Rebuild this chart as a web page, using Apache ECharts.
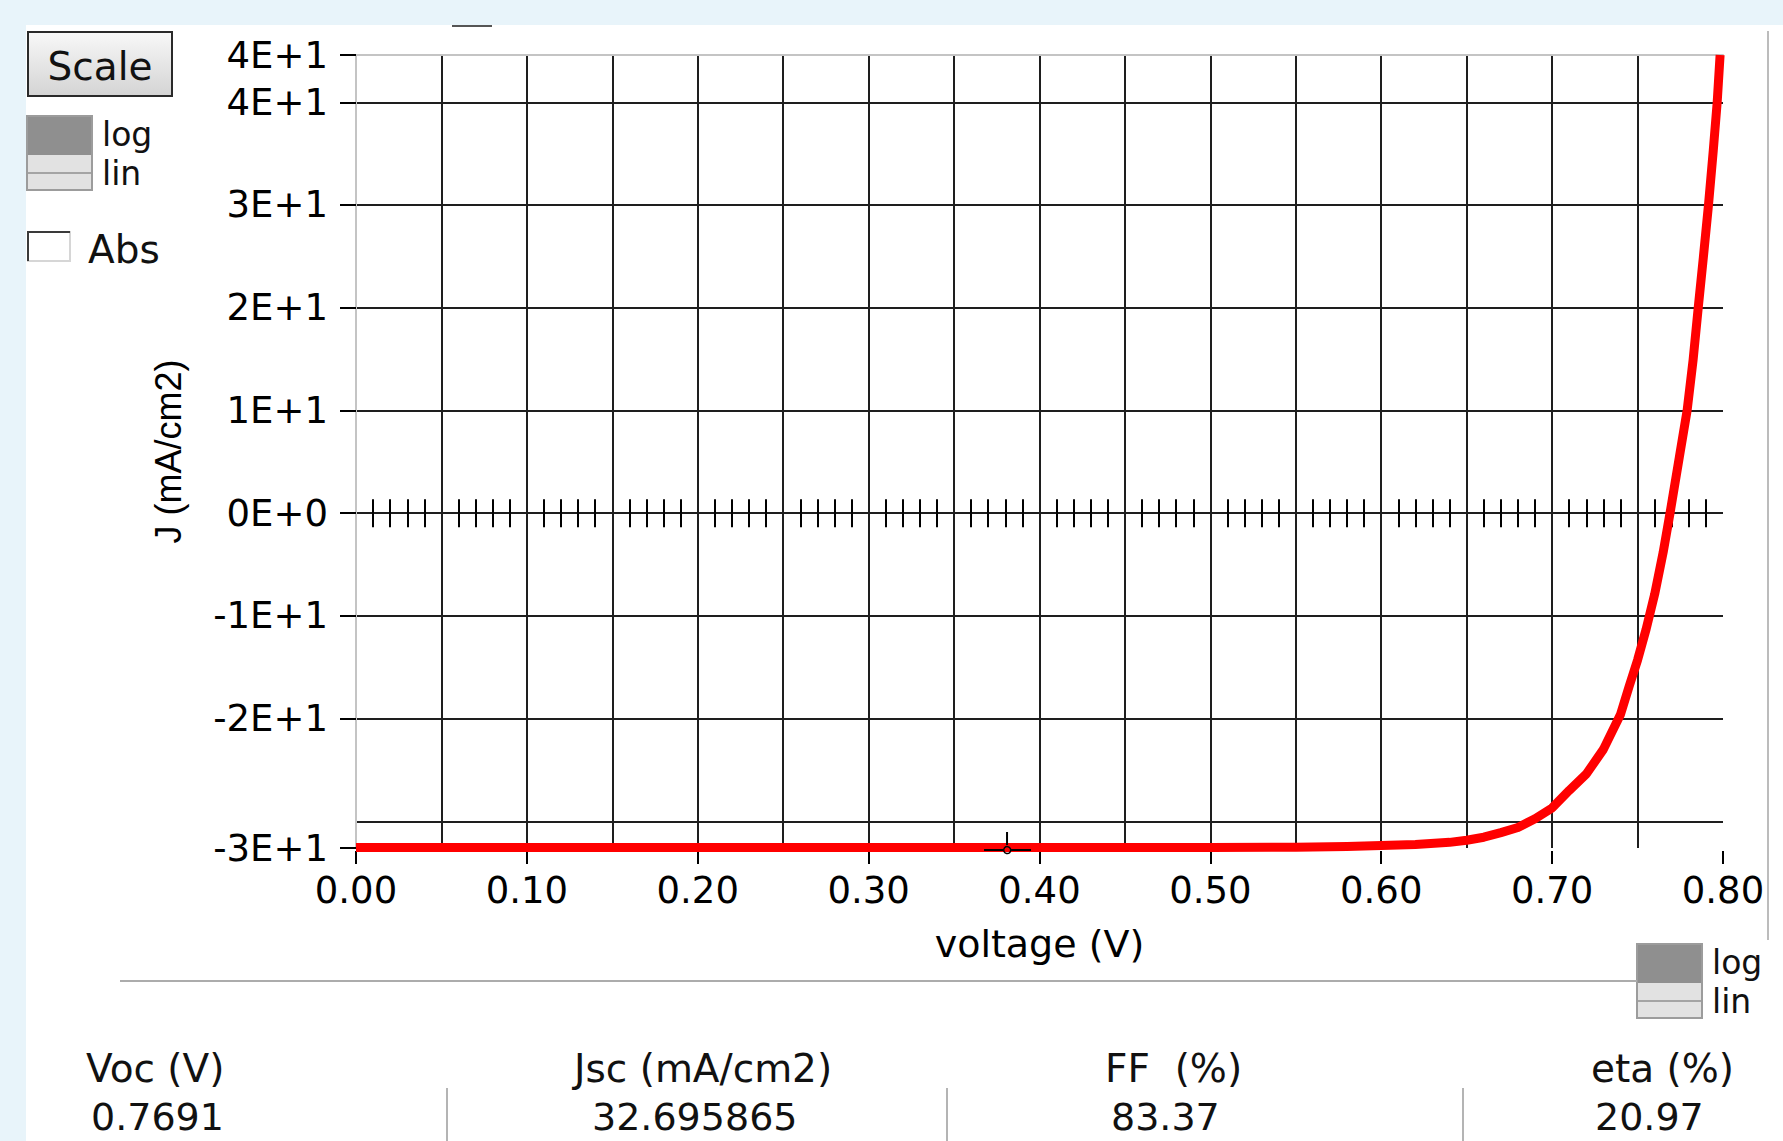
<!DOCTYPE html>
<html>
<head>
<meta charset="utf-8">
<script src="https://cdn.jsdelivr.net/npm/echarts@6/dist/echarts.min.js"></script>
<style>
html, body { margin: 0; padding: 0; width: 1783px; height: 1141px; overflow: hidden; background: #e8f4fa; }
#panel { position: absolute; left: 26px; top: 25px; right: 0; bottom: 0; background: #ffffff; }
#chart { position: absolute; left: 0; top: 0; width: 1783px; height: 1141px; }
</style>
</head>
<body>
<div id="panel"></div>
<div id="chart"></div>
<script>
// ---- data ----
const voltage = [0.00, 0.05, 0.10, 0.15, 0.20, 0.25, 0.30, 0.35, 0.40, 0.45, 0.50, 0.55,
  0.58, 0.60, 0.62, 0.64, 0.65, 0.66, 0.67, 0.68, 0.69, 0.70, 0.71, 0.72, 0.73, 0.74,
  0.745, 0.75, 0.755, 0.76, 0.765, 0.769, 0.7745, 0.779, 0.7825, 0.7855, 0.7885, 0.7915,
  0.7943, 0.7966, 0.7983];
const currentDensity = [-32.55, -32.55, -32.55, -32.55, -32.55, -32.55, -32.55, -32.55, -32.55, -32.55, -32.55, -32.53,
  -32.45, -32.35, -32.25, -32.05, -31.85, -31.55, -31.1, -30.6, -29.75, -28.7, -27.0, -25.4, -23.0, -19.6,
  -16.9, -14.3, -11.3, -7.9, -3.8, 0.0, 5.5, 10.0, 14.9, 20.0, 24.9, 30.0,
  35.3, 40.0, 44.6];
const xRange = [0, 0.8];
const yRange = [-32.6, 44.6];
const cursorPoint = [0.381, -32.6];
const paramNames = ['Voc (V)', 'Jsc (mA/cm2)', 'FF  (%)', 'eta (%)'];
const paramValues = ['0.7691', '32.695865', '83.37', '20.97'];
const scaleOptions = ['log', 'lin'];
const xTitle = 'voltage (V)';
const yTitle = 'J (mA/cm2)';

// ---- layout ----
const headerX = [86, 574, 1105, 1591];
const valueX = [91, 592, 1111, 1595];
const FONT = 'DejaVu Sans';
const INK = '#000000';
const GRIDC = '#1e1e1e';

const chart = echarts.init(document.getElementById('chart'), null, { renderer: 'svg' });

const seriesData = voltage.map((v, i) => [v, currentDensity[i]]);
const yFmt = (v) => Number(v).toExponential(0).toUpperCase();

function zeroTickAxis(pos) {
  return {
    type: 'value', gridIndex: 0, position: pos,
    min: xRange[0], max: xRange[1], interval: 0.05,
    axisLine: { show: false, onZero: true, onZeroAxisIndex: 0 },
    axisTick: { show: false },
    axisLabel: { show: false },
    splitLine: { show: false },
    minorTick: { show: true, splitNumber: 5, length: 14, lineStyle: { color: INK, width: 2 } },
    minorSplitLine: { show: false }
  };
}

const option = {
  animation: false,
  backgroundColor: 'transparent',
  grid: { left: 356, right: 60, top: 55, bottom: 293, containLabel: false, outerBoundsMode: 'none' },
  xAxis: [
    {
      type: 'value', position: 'bottom', offset: 3,
      min: xRange[0], max: xRange[1], interval: 0.1,
      name: xTitle, nameLocation: 'middle', nameGap: 74, nameMoveOverlap: false,
      nameTextStyle: { color: INK, fontFamily: FONT, fontSize: 38 },
      axisLine: { show: false, onZero: false },
      axisTick: { show: true, length: 13, lineStyle: { color: INK, width: 2 } },
      axisLabel: { color: INK, fontFamily: FONT, fontSize: 37, margin: 21,
        showMinLabel: true, showMaxLabel: true, formatter: (v) => Number(v).toFixed(2) },
      splitLine: { show: true, showMinLine: false, showMaxLine: false, lineStyle: { color: GRIDC, width: 2 } },
      minorTick: { show: false, splitNumber: 2 },
      minorSplitLine: { show: true, lineStyle: { color: GRIDC, width: 2 } }
    },
    {
      type: 'value', position: 'top',
      min: xRange[0], max: xRange[1],
      axisLine: { show: true, onZero: false, lineStyle: { color: '#c4c4c4', width: 2 } },
      axisTick: { show: false }, axisLabel: { show: false }, splitLine: { show: false }
    },
    zeroTickAxis('bottom'),
    zeroTickAxis('top')
  ],
  yAxis: {
    type: 'value', min: yRange[0], max: yRange[1], minInterval: 10, maxInterval: 10,
    name: yTitle, nameLocation: 'middle', nameGap: 170, nameRotate: 90, nameMoveOverlap: false,
    nameTextStyle: { color: INK, fontFamily: 'Liberation Sans', fontSize: 36 },
    axisLine: { show: true, onZero: false, lineStyle: { color: '#c4c4c4', width: 2 } },
    axisTick: { show: true, length: 16, lineStyle: { color: INK, width: 2 } },
    axisLabel: { color: INK, fontFamily: FONT, fontSize: 37, margin: 28,
      showMinLabel: true, showMaxLabel: true, formatter: yFmt },
    splitLine: { show: true, showMinLine: false, showMaxLine: false, lineStyle: { color: GRIDC, width: 2 } }
  },
  series: [{
    type: 'line', xAxisIndex: 0, yAxisIndex: 0,
    data: seriesData, showSymbol: false, smooth: false, clip: false,
    lineStyle: { color: '#ff0000', width: 9, cap: 'butt', join: 'round' },
    itemStyle: { color: '#ff0000' }, z: 5
  }]
};
chart.setOption(option);

const p = chart.convertToPixel({ xAxisIndex: 0, yAxisIndex: 0 }, cursorPoint);
const cx = p[0], cy = p[1] + 1;

const txt = (x, y, s, size, align, extra) => ({
  type: 'text', x: x, y: y, z: 20,
  style: Object.assign({ text: s, fontFamily: FONT, fontSize: size, fill: '#111111', align: align || 'left', verticalAlign: 'middle' }, extra || {})
});
const line = (x1, y1, x2, y2, color, w) => ({
  type: 'line', z: 20, shape: { x1: x1, y1: y1, x2: x2, y2: y2 }, style: { stroke: color, lineWidth: w }
});

const logLin = (x, y) => [
  { type: 'rect', z: 19, shape: { x: x, y: y, width: 65, height: 74 }, style: { fill: '#e2e2e2', stroke: '#9c9c9c', lineWidth: 2 } },
  { type: 'rect', z: 19, shape: { x: x + 1, y: y + 1, width: 63, height: 38 }, style: { fill: '#8f8f8f' } },
  line(x + 1, y + 57, x + 64, y + 57, '#a4a4a4', 2),
  txt(x + 75, y + 18, scaleOptions[0], 33),
  txt(x + 75, y + 57, scaleOptions[1], 33)
];

const graphics = [
  // Scale button
  { type: 'rect', z: 19, shape: { x: 28, y: 32, width: 144, height: 64 },
    style: { fill: new echarts.graphic.LinearGradient(0, 0, 0, 1, [{ offset: 0, color: '#f8f8f8' }, { offset: 1, color: '#d4d4d4' }]),
      stroke: '#2a2a2a', lineWidth: 2 } },
  txt(100, 66, 'Scale', 39, 'center'),
  ...logLin(27, 116),
  // Abs checkbox
  { type: 'rect', z: 19, shape: { x: 28, y: 232, width: 42, height: 29 }, style: { fill: '#ffffff', stroke: '#d6d6d6', lineWidth: 2 } },
  { type: 'polyline', z: 20, shape: { points: [[28, 261], [28, 232], [70, 232]] }, style: { stroke: '#3a3a3a', lineWidth: 2, fill: null } },
  txt(88, 249, 'Abs', 39),
  // small mark at top edge
  line(452, 26, 492, 26, '#555555', 2),
  // right border of the panel
  line(1768, 31, 1768, 940, '#bcbcbc', 2),
  // bottom widget
  ...logLin(1637, 944),
  // separator above the table
  line(120, 981, 1637, 981, '#acacac', 2),
  // table column separators
  line(447, 1088, 447, 1141, '#b4b4b4', 2),
  line(947, 1088, 947, 1141, '#b4b4b4', 2),
  line(1463, 1088, 1463, 1141, '#b4b4b4', 2),
  // cursor cross
  line(cx, cy - 17, cx, cy - 4, '#000000', 2),
  line(cx - 23, cy + 1, cx - 4, cy + 1, '#000000', 2),
  line(cx + 4, cy + 1, cx + 24, cy + 1, '#000000', 2),
  { type: 'circle', z: 20, shape: { cx: cx, cy: cy, r: 3.5 }, style: { fill: null, stroke: '#000000', lineWidth: 1.5 } }
];
paramNames.forEach((s, i) => graphics.push(txt(headerX[i], 1068, s, 39)));
paramValues.forEach((s, i) => graphics.push(txt(valueX[i], 1117, s, 38)));

chart.setOption({ graphic: graphics });
</script>
</body>
</html>
